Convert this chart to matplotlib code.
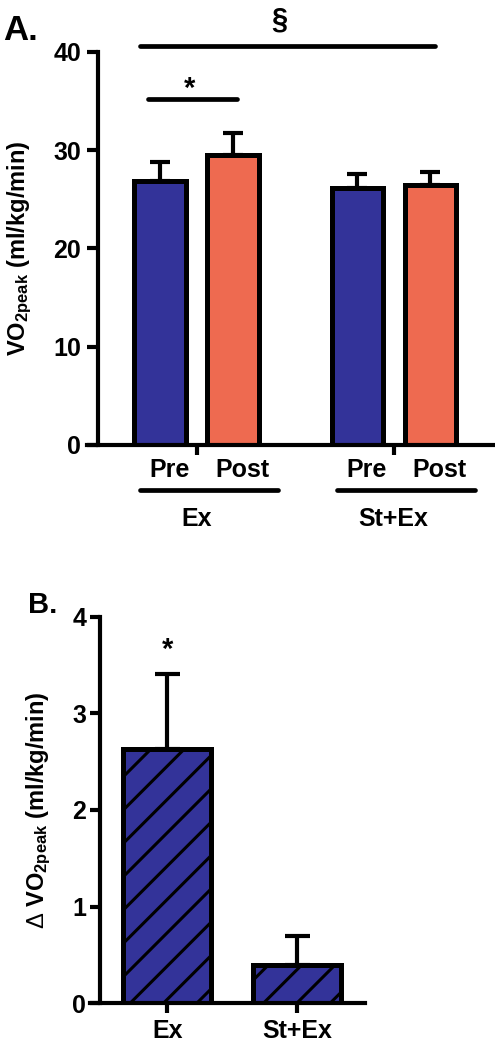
import matplotlib.pyplot as plt
import numpy as np

plt.rcParams['font.family'] = ['Liberation Sans', 'DejaVu Sans']
plt.rcParams['font.weight'] = 'bold'
plt.rcParams['axes.labelweight'] = 'bold'
plt.rcParams['mathtext.fontset'] = 'custom'
plt.rcParams['mathtext.rm'] = 'Liberation Sans:weight=normal'
plt.rcParams['mathtext.default'] = 'regular'
plt.rcParams['hatch.linewidth'] = 2.2

# --- Panel A: VO2peak before/after training ---
groups = ['Ex', 'St+Ex']
phases = ['Pre', 'Post']
pre_mean = [26.9, 26.2]
pre_sem = [1.9, 1.4]
post_mean = [29.5, 26.5]
post_sem = [2.3, 1.3]

# --- Panel B: change in VO2peak ---
delta_groups = ['Ex', 'St+Ex']
delta_mean = [2.63, 0.40]
delta_sem = [0.78, 0.30]

blue = '#333399'
orange = '#EE6A50'
lw = 3.0

fig = plt.figure(figsize=(4.95, 10.5), dpi=100)

# ---------------- Panel A ----------------
ax = fig.add_axes([0.198, 0.5762, 0.798, 0.3743])
g = np.array([0.0, 2.7])
w = 0.7
zeros = np.zeros(len(g))

ax.bar(g - 0.5, pre_mean, width=w, color=blue, edgecolor='black', linewidth=3.6, zorder=2)
ax.bar(g + 0.5, post_mean, width=w, color=orange, edgecolor='black', linewidth=3.6, zorder=2)
ax.errorbar(g - 0.5, pre_mean, yerr=[zeros, pre_sem], fmt='none', ecolor='black',
            elinewidth=lw, capsize=7, capthick=lw, zorder=1)
ax.errorbar(g + 0.5, post_mean, yerr=[zeros, post_sem], fmt='none', ecolor='black',
            elinewidth=lw, capsize=7, capthick=lw, zorder=1)

ax.set_xlim(-1.349, 4.06)
ax.set_ylim(0, 40)
ax.set_yticks([0, 10, 20, 30, 40])
ax.set_xticks(g)
ax.set_xticklabels([])
for s in ['top', 'right']:
    ax.spines[s].set_visible(False)
for s in ['left', 'bottom']:
    ax.spines[s].set_linewidth(lw)
ax.spines['bottom'].set_bounds(-1.5, 4.06)
ax.tick_params(axis='y', width=lw, length=8, labelsize=18, pad=4)
ax.tick_params(axis='x', width=lw, length=7)
ax.set_ylabel(r'VO$_{2peak}$ (ml/kg/min)', fontsize=17, labelpad=14)

# Pre / Post labels and group underlines
tr = ax.get_xaxis_transform()
for gi, name in zip(g, groups):
    ax.text(gi - 0.5 + 0.13, -0.0807, phases[0], transform=tr, ha='center',
            va='baseline', fontsize=18)
    ax.text(gi + 0.5 + 0.13, -0.0807, phases[1], transform=tr, ha='center',
            va='baseline', fontsize=18)
    ax.plot([gi - 0.77, gi + 1.12], [-0.1145, -0.1145], transform=tr, color='black',
            lw=3.4, solid_capstyle='round', clip_on=False)
    ax.text(gi, -0.206, name, transform=tr, ha='center', va='baseline', fontsize=18)

# significance marks
ax.plot([-0.774, 3.27], [40.6, 40.6], color='black', lw=3.4,
        solid_capstyle='round', clip_on=False)
ax.text(1.14, 43.3, '§', ha='center', va='center', fontsize=21, clip_on=False)
ax.plot([-0.66, 0.55], [35.2, 35.2], color='black', lw=3.4,
        solid_capstyle='round', clip_on=False)
ax.text(-0.09, 35.4, '*', ha='center', va='baseline', fontsize=21)

fig.text(3 / 495, 1 - 40 / 1050, 'A.', fontsize=25, ha='left', va='baseline')

# ---------------- Panel B ----------------
bx = fig.add_axes([0.202, 0.0445, 0.535, 0.3682])
xb = np.arange(len(delta_groups))
bx.bar(xb, delta_mean, width=0.68, color=blue, edgecolor='black', hatch='/',
       linewidth=3.6, zorder=2)
bx.errorbar(xb, delta_mean, yerr=[np.zeros(len(xb)), delta_sem], fmt='none',
            ecolor='black', elinewidth=lw, capsize=9, capthick=lw, zorder=1)
bx.set_xlim(-0.521, 1.525)
bx.set_ylim(0, 4)
bx.set_yticks([0, 1, 2, 3, 4])
bx.set_xticks(xb)
bx.set_xticklabels(delta_groups)
for s in ['top', 'right']:
    bx.spines[s].set_visible(False)
for s in ['left', 'bottom']:
    bx.spines[s].set_linewidth(lw)
bx.spines['bottom'].set_bounds(-0.6, 1.525)
bx.tick_params(axis='y', width=lw, length=7, labelsize=18, pad=3)
bx.tick_params(axis='x', width=lw, length=7, labelsize=18, pad=4)
bx.set_ylabel(r'$\mathrm{\Delta}$ VO$_{2peak}$ (ml/kg/min)', fontsize=17, labelpad=14)
bx.text(0, 3.57, '*', ha='center', va='baseline', fontsize=21)

fig.text(28 / 495, 1 - 613 / 1050, 'B.', fontsize=21, ha='left', va='baseline')

fig.savefig('out.png', dpi=100)
